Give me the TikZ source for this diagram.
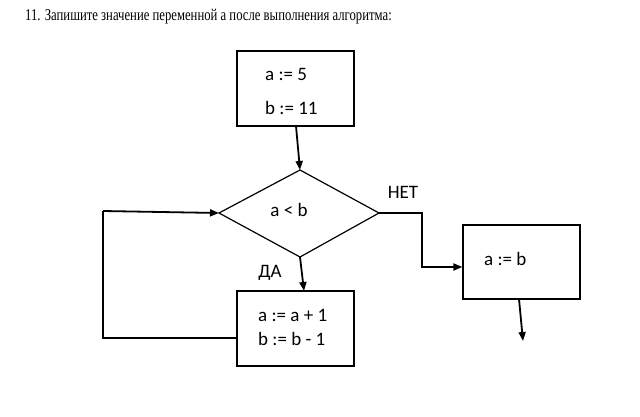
\documentclass[tikz,border=0pt]{standalone}
\usepackage{fontspec}
\setmainfont{Liberation Serif}
\newfontfamily\calib{Carlito}
\usetikzlibrary{arrows.meta}
\begin{document}
\begin{tikzpicture}[x=1pt,y=-1pt,
  blk/.style={draw,line width=1.2pt,minimum width=117pt,inner sep=0pt},
  conn/.style={line width=1.8pt},
  arr/.style={conn,-{Triangle[length=9pt,width=7pt]}},
  lbl/.style={font=\calib\fontsize{19}{22}\selectfont,inner sep=0pt}]
\useasboundingbox (0,0) rectangle (640,416);
\node[anchor=base west,inner sep=0pt,font=\fontsize{16.5}{19}\selectfont] (title) at (25,20) {\scalebox{0.77}[1]{11. Запишите значение переменной а после выполнения алгоритма:}};
% box 1
\node[blk,minimum height=75pt] (b1) at (295.5,88.5) {};
\node[lbl,anchor=west] (t1) at (265,74) {a := 5};
\node[lbl,anchor=west] (t2) at (265,108) {b := 11};
% diamond
\coordinate (dT) at (300,170);
\coordinate (dL) at (219,213);
\coordinate (dR) at (379,213);
\coordinate (dB) at (300,257);
\draw[line width=1.2pt] (dT) -- (dR) -- (dB) -- (dL) -- cycle;
\node[lbl] (cond) at (289,210) {a < b};
% box 2
\node[blk,minimum height=75pt] (b2) at (295.5,328.5) {};
\node[lbl,anchor=west] (t3) at (258,315) {a := a + 1};
\node[lbl,anchor=west] (t4) at (258,339) {b := b - 1};
% box 3
\node[blk,minimum height=74pt] (b3) at (521.5,262) {};
\node[lbl,anchor=west] (t5) at (484,259) {a := b};
% labels
\node[lbl] (da) at (270,273) {ДА};
\node[lbl] (net) at (403,192) {НЕТ};
% connectors
\coordinate (b1out) at (296,126);
\coordinate (b2in) at (304,291);
\coordinate (b3out) at (519,299);
\coordinate (end) at (523,341);
\draw[arr] (b1out) -- (dT);
\draw[arr] (dB) -- (b2in);
\draw[conn] (b2.west |- 0,338) -- (103,338) -- (103,211);
\draw[arr] (103,211) -- (dL);
\draw[arr] (dR) -- (422,213) -- (422,267) -- (b3.west |- 0,267);
\draw[arr] (b3out) -- (end);
\end{tikzpicture}
\end{document}
